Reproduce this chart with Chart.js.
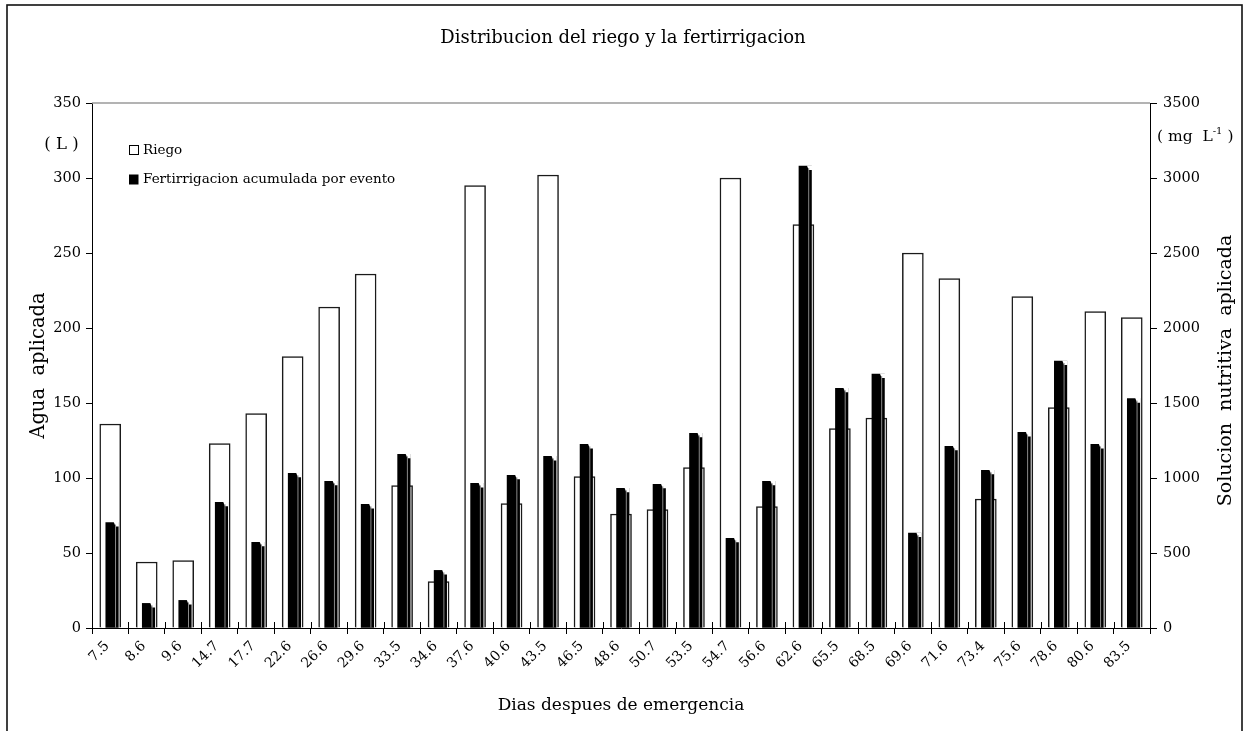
<!DOCTYPE html>
<html>
<head>
<meta charset="utf-8">
<script src="https://cdn.jsdelivr.net/npm/chart.js@4/dist/chart.umd.min.js"></script>
<style>
  html, body { margin: 0; padding: 0; background: #fff; }
  canvas { display: block; }
</style>
</head>
<body>
<canvas id="chart" width="1246" height="731"></canvas>
<script>
// Days after emergence (one bar group per irrigation event)
const categories = ['7.5', '8.6', '9.6', '14.7', '17.7', '22.6', '26.6', '29.6', '33.5', '34.6',
  '37.6', '40.6', '43.5', '46.5', '48.6', '50.7', '53.5', '54.7', '56.6', '62.6',
  '65.5', '68.5', '69.6', '71.6', '73.4', '75.6', '78.6', '80.6', '83.5'];

// Water applied per event (L) - left axis
const riego = [136, 44, 45, 123, 143, 181, 214, 236, 95, 31,
  295, 83, 302, 101, 76, 79, 107, 300, 81, 269,
  133, 140, 250, 233, 86, 221, 147, 211, 207];

// Accumulated fertigation per event (mg L-1) - right axis
const fertirrigacion = [703, 164, 184, 838, 571, 1031, 978, 824, 1158, 384,
  964, 1018, 1144, 1224, 931, 958, 1298, 598, 978, 3080,
  1598, 1693, 633, 1211, 1051, 1304, 1780, 1224, 1529];

// Axis ranges
const leftAxis = { min: 0, max: 350, step: 50 };
const rightAxis = { min: 0, max: 3500, step: 500 };

const FONT = 'DejaVu Serif';
const INK = '#000';

// Extra decorations: page frame, plot top rule, crossing x ticks,
// stepped tops on the fertigation columns, legend, units, right title.
const decorations = {
  id: 'decorations',
  beforeDraw(chart) {
    const ctx = chart.ctx;
    ctx.save();
    ctx.fillStyle = '#fff';
    ctx.fillRect(0, 0, chart.width, chart.height);
    ctx.restore();
  },
  afterDatasetUpdate(chart, args) {
    // nudge the dark columns slightly right of the category centre
    if (args.index === 1) {
      args.meta.data.forEach(el => { el.x += 1.8; });
    }
  },
  afterDatasetsDraw(chart) {
    const ctx = chart.ctx;
    const meta = chart.getDatasetMeta(1);
    ctx.save();
    meta.data.forEach(bar => {
      const { x, y, base, width } = bar.getProps(['x', 'y', 'base', 'width'], true);
      const left = x - width / 2;
      const right = x + width / 2;
      const split = left + width * 0.66;
      // cut the step on the right-hand face
      ctx.fillStyle = '#fff';
      ctx.beginPath();
      ctx.moveTo(split - 0.3, y - 0.6);
      ctx.lineTo(right + 0.6, y - 0.6);
      ctx.lineTo(right + 0.6, y + 4);
      ctx.lineTo(split + 1.5, y + 4);
      ctx.closePath();
      ctx.fill();
      // thin edge between the two faces
      ctx.strokeStyle = '#8a8a8a';
      ctx.lineWidth = 1;
      ctx.beginPath();
      ctx.moveTo(split + 1.5, y + 2);
      ctx.lineTo(split + 1.5, base);
      ctx.stroke();
    });
    ctx.restore();
  },
  afterDraw(chart) {
    const ctx = chart.ctx;
    const area = chart.chartArea;
    const xs = chart.scales.x;
    ctx.save();

    // outer frame
    ctx.strokeStyle = '#111';
    ctx.lineWidth = 1.6;
    ctx.strokeRect(7, 5, 1235, 740);

    // top rule of the plot area
    ctx.strokeStyle = '#9a9a9a';
    ctx.lineWidth = 1.5;
    ctx.beginPath();
    ctx.moveTo(area.left, area.top);
    ctx.lineTo(area.right, area.top);
    ctx.stroke();

    // upper half of the category tick marks
    ctx.strokeStyle = INK;
    ctx.lineWidth = 1;
    for (let i = 0; i <= categories.length; i++) {
      const px = Math.round(xs.getPixelForValue(i - 0.5)) + 0.5;
      ctx.beginPath();
      ctx.moveTo(px, area.bottom - 6);
      ctx.lineTo(px, area.bottom);
      ctx.stroke();
    }

    // legend
    ctx.fillStyle = '#fff';
    ctx.strokeStyle = INK;
    ctx.lineWidth = 1;
    ctx.fillRect(129.5, 145.5, 9, 9);
    ctx.strokeRect(129.5, 145.5, 9, 9);
    ctx.fillStyle = INK;
    ctx.fillRect(129, 174.5, 9.5, 10);
    ctx.font = `13.5px "${FONT}"`;
    ctx.textAlign = 'left';
    ctx.textBaseline = 'middle';
    ctx.fillText(chart.data.datasets[0].label, 143, 150.5);
    ctx.fillText(chart.data.datasets[1].label, 143, 179.5);

    // units
    ctx.font = `16.5px "${FONT}"`;
    ctx.textAlign = 'center';
    ctx.fillText('( L )', 61.5, 145);

    let ux = 1157;
    const uy = 137;
    ctx.textAlign = 'left';
    ctx.font = `15.5px "${FONT}"`;
    const partA = '( mg  L';
    ctx.fillText(partA, ux, uy);
    ux += ctx.measureText(partA).width;
    ctx.font = `10px "${FONT}"`;
    ctx.fillText('-1', ux, uy - 6);
    ux += ctx.measureText('-1').width;
    ctx.font = `15.5px "${FONT}"`;
    ctx.fillText(' )', ux, uy);

    // right axis title, read bottom to top
    ctx.translate(1226, (area.top + area.bottom) / 2 + 5);
    ctx.rotate(-Math.PI / 2);
    ctx.font = `19px "${FONT}"`;
    ctx.textAlign = 'center';
    ctx.fillText('Solucion  nutritiva  aplicada', 0, 0);

    ctx.restore();
  }
};

new Chart(document.getElementById('chart'), {
  type: 'bar',
  data: {
    labels: categories,
    datasets: [
      {
        label: 'Riego',
        data: riego,
        yAxisID: 'y',
        backgroundColor: '#fff',
        borderColor: '#1a1a1a',
        borderWidth: 1.5,
        barThickness: 21,
        grouped: false,
        order: 2
      },
      {
        label: 'Fertirrigacion acumulada por evento',
        data: fertirrigacion,
        yAxisID: 'y1',
        backgroundColor: '#000',
        borderWidth: 0,
        barThickness: 12.5,
        grouped: false,
        order: 1
      }
    ]
  },
  options: {
    responsive: false,
    animation: false,
    layout: { padding: 0 },
    plugins: {
      legend: { display: false },
      tooltip: { enabled: false },
      title: {
        display: true,
        text: 'Distribucion del riego y la fertirrigacion',
        color: INK,
        font: { family: FONT, size: 18, weight: 'normal', lineHeight: 1.2 },
        padding: { top: 28, bottom: 53.4 }
      }
    },
    scales: {
      x: {
        offset: true,
        grid: { offset: true, drawOnChartArea: false, drawTicks: true, tickLength: 6, color: INK },
        border: { display: true, color: INK, width: 1 },
        ticks: {
          color: INK,
          font: { family: FONT, size: 14 },
          minRotation: 45,
          maxRotation: 45,
          autoSkip: false,
          padding: 4,
          labelOffset: -3
        },
        title: {
          display: true,
          text: 'Dias despues de emergencia',
          color: INK,
          font: { family: FONT, size: 17 },
          padding: { top: 0, bottom: 15 }
        },
        afterFit(scale) { scale.height = 103; }
      },
      y: {
        position: 'left',
        min: leftAxis.min,
        max: leftAxis.max,
        grid: { drawOnChartArea: false, tickLength: 6, color: INK },
        border: { display: true, color: INK, width: 1 },
        ticks: {
          stepSize: leftAxis.step,
          color: INK,
          font: { family: FONT, size: 14.5 },
          padding: 5,
          callback: v => String(v)
        },
        title: {
          display: true,
          text: 'Agua  aplicada',
          color: INK,
          font: { family: FONT, size: 19.5 },
          padding: { top: 27, bottom: 0 }
        },
        afterFit(scale) { scale.width = 92; }
      },
      y1: {
        position: 'right',
        min: rightAxis.min,
        max: rightAxis.max,
        grid: { drawOnChartArea: false, tickLength: 7, color: INK },
        border: { display: true, color: INK, width: 1 },
        ticks: {
          stepSize: rightAxis.step,
          color: INK,
          font: { family: FONT, size: 14.5 },
          padding: 6,
          callback: v => String(v)
        },
        afterFit(scale) { scale.width = 96; }
      }
    }
  },
  plugins: [decorations]
});
</script>
</body>
</html>
